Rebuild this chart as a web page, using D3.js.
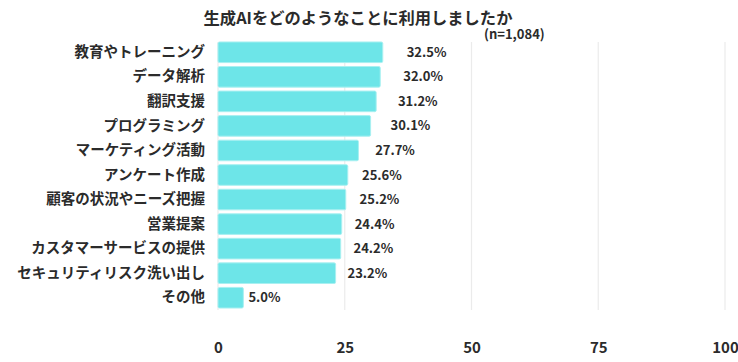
<!DOCTYPE html>
<html>
<head>
<meta charset="utf-8">
<script src="https://cdn.jsdelivr.net/npm/d3@7"></script>
<style>
    body { margin: 0; background: #fff; }
    text { font-family: "Noto Sans CJK JP", "Noto Sans", sans-serif; font-weight: 700; fill: #2b2b2b; }
</style>
</head>
<body>
<div class="chart-container"></div>
<script>
const titleText = "生成AIをどのようなことに利用しましたか";
const sampleText = "(n=1,084)";
const categories = ["教育やトレーニング", "データ解析", "翻訳支援", "プログラミング", "マーケティング活動",
    "アンケート作成", "顧客の状況やニーズ把握", "営業提案", "カスタマーサービスの提供",
    "セキュリティリスク洗い出し", "その他"];
const values = [32.5, 32.0, 31.2, 30.1, 27.7, 25.6, 25.2, 24.4, 24.2, 23.2, 5.0];
const tickValues = [0, 25, 50, 75, 100];

function makeBarChart(){
    const svgWidth = 738;
    const svgHeight = 362;

    let svg = d3.select(".chart-container")
                .append("svg")
                .attr("width", svgWidth)
                .attr("height", svgHeight)
                .attr("viewBox", "0 0 " + svgWidth + " " + svgHeight);

    let data = categories.map(function(c, i){ return {name: c, value: values[i]}; });

    let x = d3.scaleLinear()
        .domain([0, 100])
        .range([218, 725]);

    let y = d3.scaleBand()
        .domain(categories)
        .range([40, 310])
        .paddingInner(0.16)
        .paddingOuter(0.08);

    // vertical grid lines
    svg.append("g")
        .selectAll("line")
        .data(tickValues)
        .enter()
        .append("line")
        .attr("x1", function(d){ return x(d); })
        .attr("x2", function(d){ return x(d); })
        .attr("y1", 42)
        .attr("y2", 310)
        .style("stroke", "#ebebeb")
        .style("stroke-width", 1.2);

    // bottom axis, labels only
    let xAxis = svg.append("g")
        .attr("transform", "translate(0,342)")
        .call(d3.axisBottom(x).tickValues(tickValues).tickSize(0).tickPadding(0));
    xAxis.select(".domain").remove();
    xAxis.selectAll("text")
        .style("font-size", "15px")
        .style("font-family", "'Noto Sans CJK JP', sans-serif");

    // category labels
    let yAxis = svg.append("g")
        .attr("transform", "translate(205,0)")
        .call(d3.axisLeft(y).tickSize(0).tickPadding(0));
    yAxis.select(".domain").remove();
    yAxis.selectAll("text")
        .style("font-size", "14.5px")
        .style("font-family", "'Noto Sans CJK JP', sans-serif");

    svg.selectAll("rect.bar")
        .data(data)
        .enter()
        .append("rect")
        .attr("class", "bar")
        .attr("x", x(0))
        .attr("y", function(d){ return y(d.name); })
        .attr("width", function(d){ return x(d.value) - x(0); })
        .attr("height", y.bandwidth())
        .attr("rx", 1.5)
        .style("fill", "#6de5e8")
        .style("stroke", "#a9f0f1")
        .style("stroke-width", 1);

    // value labels, the gap grows a bit with the bar length in the original
    svg.selectAll("text.value")
        .data(data)
        .enter()
        .append("text")
        .attr("class", "value")
        .attr("x", function(d){ return x(d.value) + 5 + Math.pow(d.value, 3) * 0.00055; })
        .attr("y", function(d){ return y(d.name) + y.bandwidth()/2; })
        .attr("dy", "0.35em")
        .style("font-size", "13px")
        .text(function(d){ return d.value.toFixed(1) + "%"; });

    svg.append("text")
        .attr("x", 358)
        .attr("y", 18)
        .attr("dy", "0.35em")
        .attr("text-anchor", "middle")
        .style("font-size", "16.3px")
        .text(titleText);

    svg.append("text")
        .attr("x", 484)
        .attr("y", 34.5)
        .attr("dy", "0.35em")
        .style("font-size", "13px")
        .text(sampleText);
}

makeBarChart();
</script>
</body>
</html>
